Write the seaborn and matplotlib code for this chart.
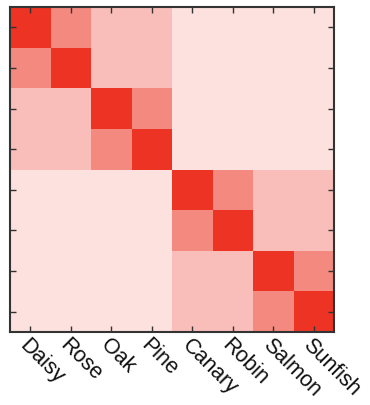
import matplotlib
matplotlib.use("Agg")
import matplotlib.pyplot as plt
import seaborn as sns
import numpy as np
import pandas as pd
from matplotlib.colors import LinearSegmentedColormap

labels = ["Daisy", "Rose", "Oak", "Pine", "Canary", "Robin", "Salmon", "Sunfish"]

# similarity values
row_daisy   = [1.00, 0.58, 0.32, 0.32, 0.15, 0.15, 0.15, 0.15]
row_rose    = [0.58, 1.00, 0.32, 0.32, 0.15, 0.15, 0.15, 0.15]
row_oak     = [0.32, 0.32, 1.00, 0.58, 0.15, 0.15, 0.15, 0.15]
row_pine    = [0.32, 0.32, 0.58, 1.00, 0.15, 0.15, 0.15, 0.15]
row_canary  = [0.15, 0.15, 0.15, 0.15, 1.00, 0.58, 0.32, 0.32]
row_robin   = [0.15, 0.15, 0.15, 0.15, 0.58, 1.00, 0.32, 0.32]
row_salmon  = [0.15, 0.15, 0.15, 0.15, 0.32, 0.32, 1.00, 0.58]
row_sunfish = [0.15, 0.15, 0.15, 0.15, 0.32, 0.32, 0.58, 1.00]

df = pd.DataFrame([row_daisy, row_rose, row_oak, row_pine,
                   row_canary, row_robin, row_salmon, row_sunfish],
                  index=labels, columns=labels)

cmap = LinearSegmentedColormap.from_list("wr", ["#ffffff", "#ec3324"])

fig = plt.figure(figsize=(3.7, 4.05), dpi=100)
ax = fig.add_axes([10 / 370, 73 / 405, 324 / 370, 325 / 405])
sns.heatmap(df, ax=ax, cmap=cmap, vmin=0, vmax=1, cbar=False,
            square=False, linewidths=0)

ax.set_xlabel("")
ax.set_ylabel("")
ax.set_yticklabels([])
ax.tick_params(axis="both", which="both", direction="in", length=4,
               width=1, color="#333333", top=True, right=True,
               left=True, bottom=True)
ax.set_xticklabels(labels, rotation=-45, ha="left", rotation_mode="anchor",
                   fontsize=15.5, family="Liberation Sans", color="#111111")
ax.tick_params(axis="x", pad=2)
for s in ax.spines.values():
    s.set_visible(True)
    s.set_linewidth(1.5)
    s.set_color("#333333")

fig.savefig("out.png", dpi=100)
